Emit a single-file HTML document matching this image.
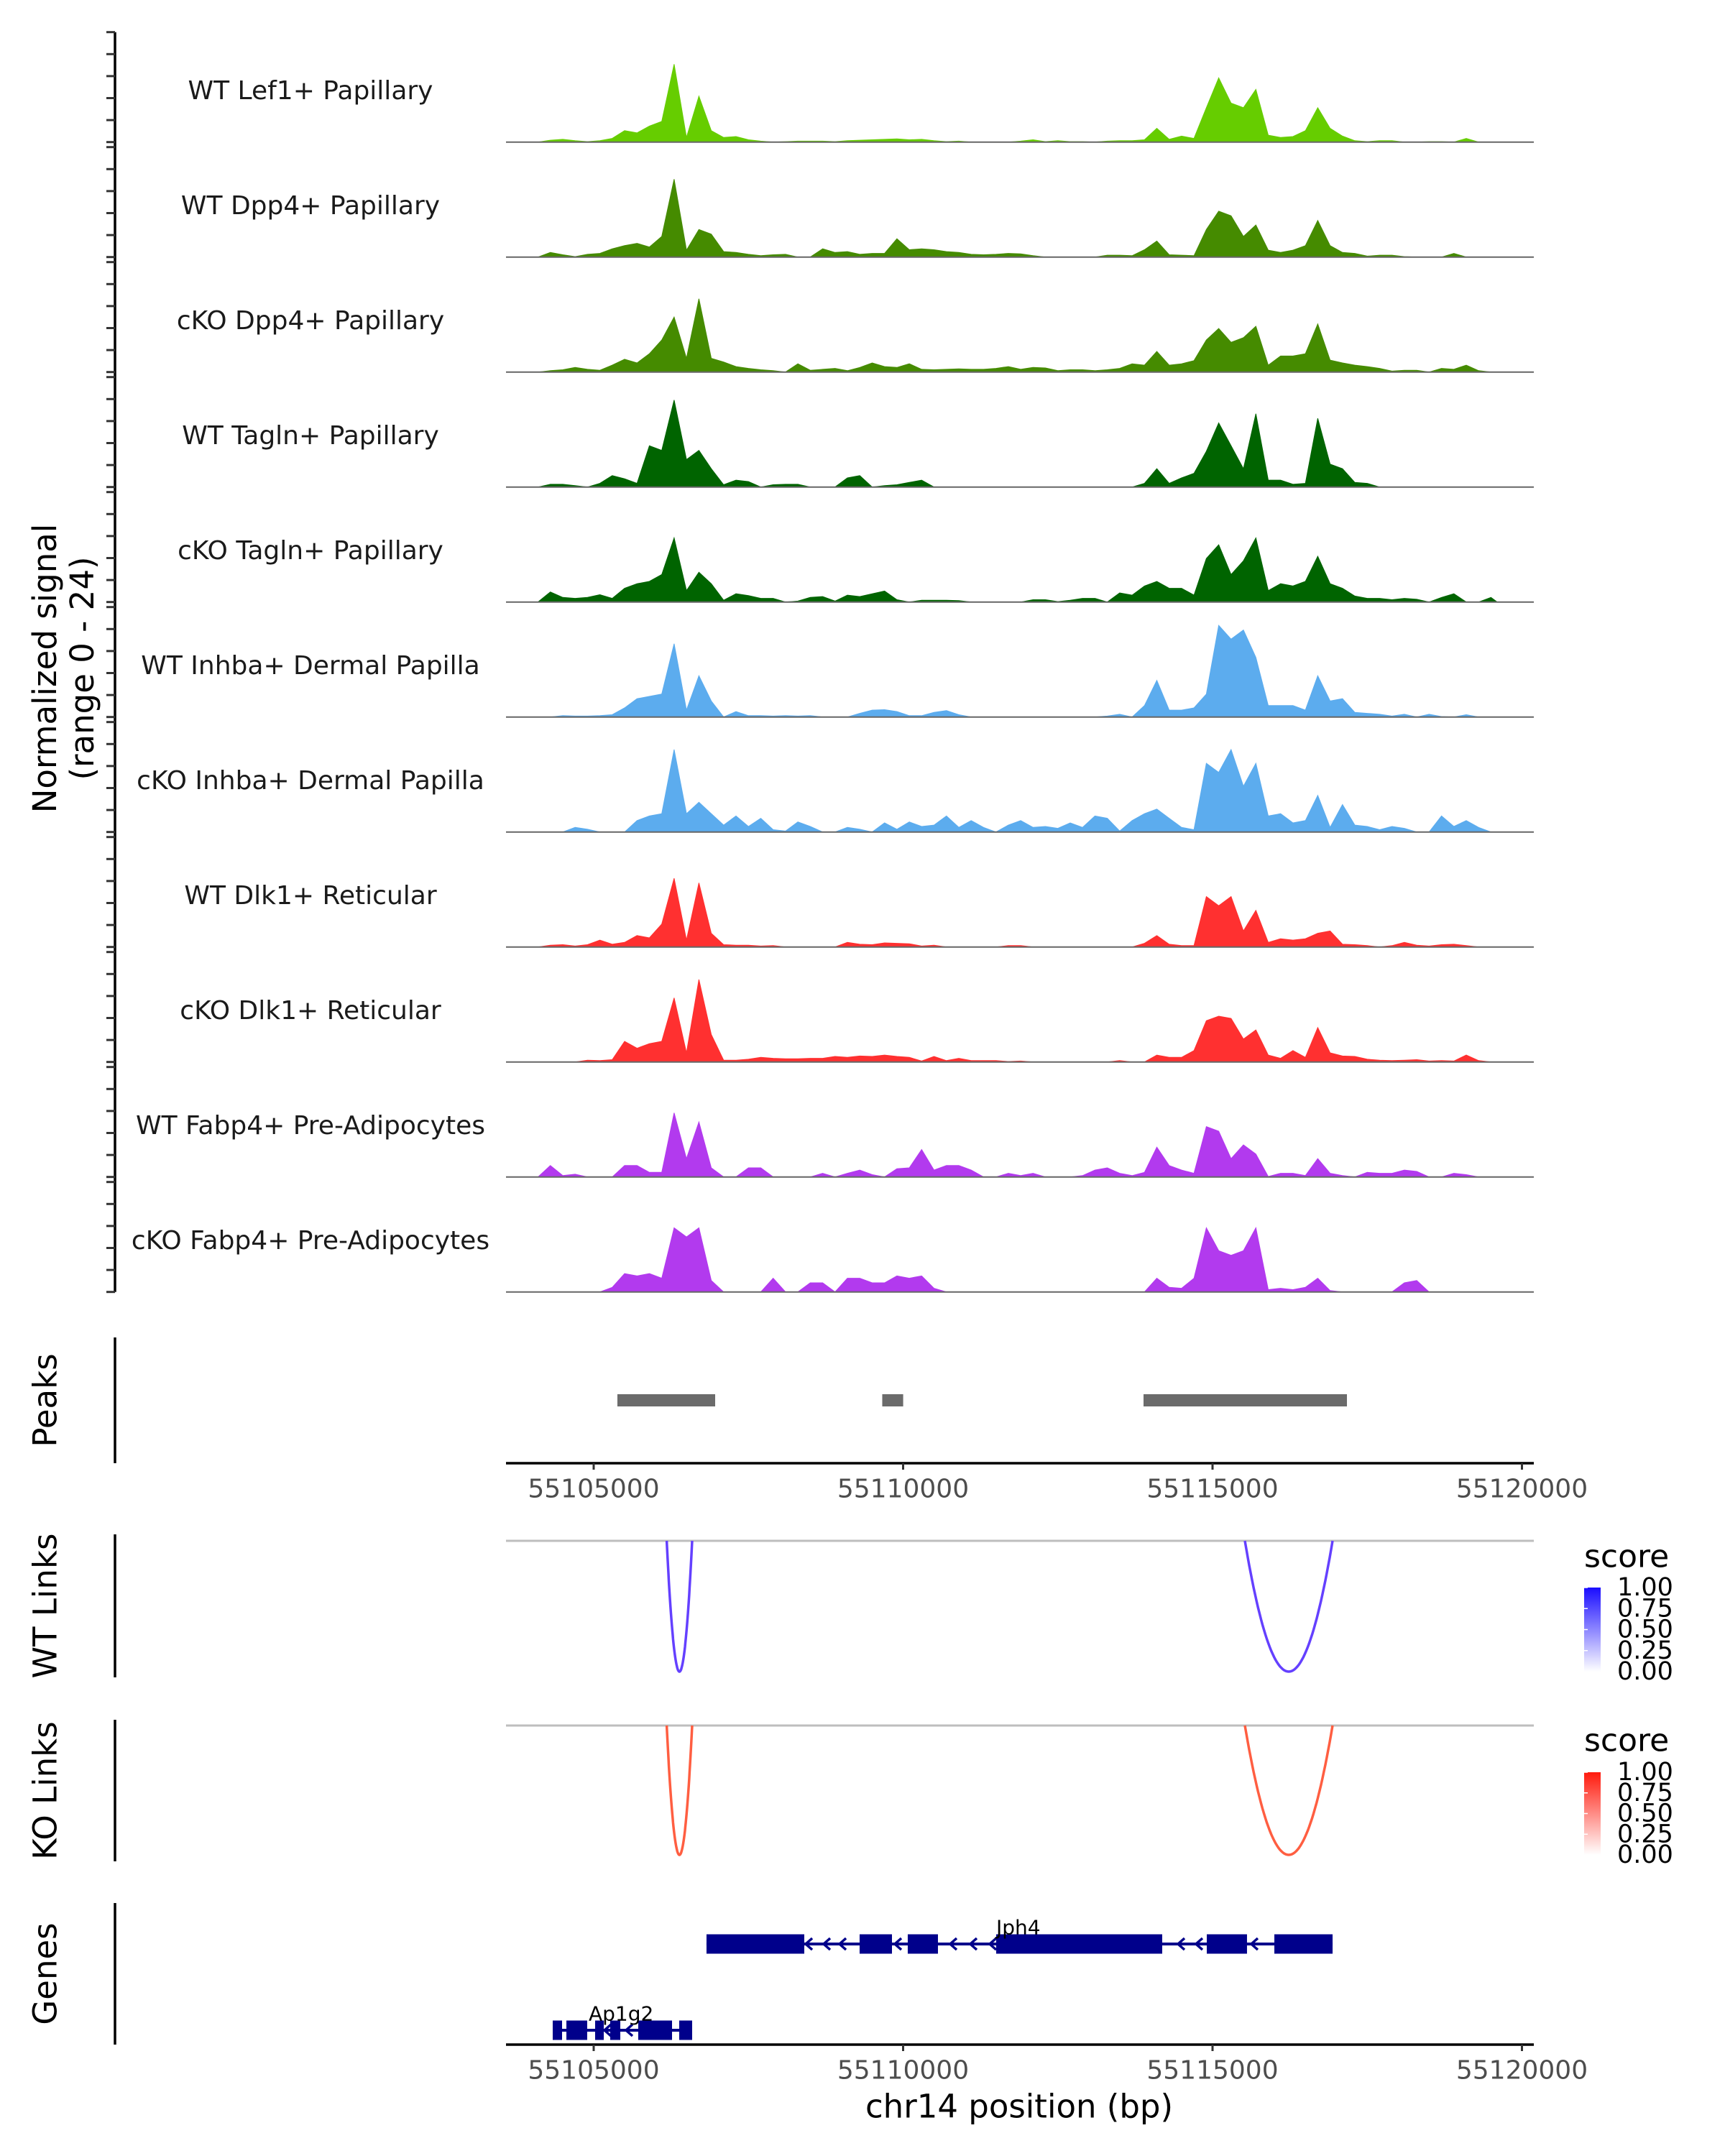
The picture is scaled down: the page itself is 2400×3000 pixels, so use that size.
<!DOCTYPE html>
<html><head><meta charset="utf-8"><style>
html,body{margin:0;padding:0;background:#fff;}
svg{display:block;font-family:"DejaVu Sans","Liberation Sans",sans-serif;}
</style></head><body>
<svg id="chart" width="2400" height="3000" viewBox="0 0 2400 3000" xmlns="http://www.w3.org/2000/svg">
<rect x="0" y="0" width="2400" height="3000" fill="#fff"/>
<g id="tracks"></g>
<g id="lower"></g>
</svg>
<script>
// ---- data ----
const trackNames = ["WT Lef1+ Papillary","WT Dpp4+ Papillary","cKO Dpp4+ Papillary","WT Tagln+ Papillary","cKO Tagln+ Papillary","WT Inhba+ Dermal Papilla","cKO Inhba+ Dermal Papilla","WT Dlk1+ Reticular","cKO Dlk1+ Reticular","WT Fabp4+ Pre-Adipocytes","cKO Fabp4+ Pre-Adipocytes"];
const trackColors = ["#66cd00","#458b00","#458b00","#006400","#006400","#5cacee","#5cacee","#ff3030","#ff3030","#b23aee","#b23aee"];
const binStart = 55104000;
const binSize = 200;
const sigLef1WT = [0,0.4,0.6,0.3,0.1,0.3,0.8,2.5,2,3.5,4.5,17,1,10,2.5,1,1.2,0.5,0.2,0,0.1,0.2,0.2,0.2,0.1,0.3,0.4,0.5,0.6,0.7,0.5,0.6,0.3,0.1,0.2,0,0,0,0,0.2,0.5,0.1,0.3,0.1,0.1,0,0.2,0.3,0.3,0.5,3,0.6,1.3,0.8,7.5,14,8.5,7.5,11.5,1.5,1,1.2,2.5,7.5,3,1.3,0.3,0.1,0.3,0.3,0,0,0.1,0.1,0,0.8,0,0];
const sigDpp4WT = [0,1,0.5,0.1,0.6,0.8,1.8,2.5,3,2.2,4.5,17,1.5,6,5,1.2,1,0.6,0.3,0.5,0.6,0,0,1.8,1,1.2,0.6,0.8,0.8,4,1.6,1.8,1.6,1.2,1,0.6,0.5,0.6,0.8,0.7,0.3,0,0,0,0,0,0.4,0.4,0.3,1.6,3.5,0.5,0.4,0.3,6,10,9,4.5,7,1.5,1,1.5,2.5,8,2.5,1,0.8,0.2,0.4,0.4,0.1,0,0,0,0.8,0,0,0];
const sigDpp4KO = [0,0.3,0.5,1,0.6,0.4,1.5,2.8,2,4,7,12,3,16,3,2.2,1.2,0.8,0.5,0.3,0,1.8,0.4,0.6,0.8,0.3,1,2,1.2,1,1.8,0.6,0.5,0.6,0.7,0.6,0.6,0.8,1.2,0.6,1,0.9,0.3,0.5,0.5,0.3,0.5,0.8,1.8,1.5,4.5,1.5,1.8,2.5,7,9.5,6.5,7.5,10,1.5,3.5,3.5,4,10.5,2.6,2,1.5,1.2,0.8,0.2,0.4,0.4,0,0.8,0.6,1.5,0.3,0];
const sigTaglnWT = [0,0.6,0.6,0.3,0,0.8,2.5,1.8,0.8,9,8,19,6,8,4,0.5,1.5,1.2,0,0.5,0.6,0.6,0,0,0,2,2.5,0,0.3,0.5,1,1.5,0,0,0,0,0,0,0,0,0,0,0,0,0,0,0,0,0,0.8,4,0.8,2,3,7.8,14,9,4,16,1.5,1.5,0.6,0.8,15,5,4,1,0.8,0,0,0,0,0,0,0,0,0,0];
const sigTaglnKO = [0,2.2,1,0.8,1,1.6,0.8,3,4,4.5,6,14,2.5,6.5,4,0.4,1.8,1.4,0.8,0.8,0,0.2,1,1.2,0.2,1.5,1.2,1.8,2.4,0.5,0,0.4,0.4,0.4,0.3,0,0,0,0,0,0.5,0.5,0.1,0.4,0.8,0.8,0,2,1.5,3.5,4.5,3,3,1.5,9.5,12.5,6,9,14,2.5,4,3.5,4.5,10,4,3,1.3,0.8,0.8,0.5,0.8,0.6,0,1,1.8,0,0,1];
const sigInhbaWT = [0,0,0.3,0.2,0.2,0.3,0.5,2,4,4.5,5,16,1.5,9,3.5,0,1.2,0.3,0.3,0.2,0.3,0.2,0.3,0,0,0,0.8,1.5,1.6,1.2,0.3,0.3,1,1.4,0.5,0,0,0,0,0,0,0,0,0,0,0,0.2,0.6,0,2.5,8,1.5,1.5,2,5,20,17,19,13,2.5,2.5,2.5,1.5,9,3.5,4,1,0.8,0.6,0.2,0.6,0,0.6,0.1,0,0.5,0,0];
const sigInhbaKO = [0,0,0,1,0.6,0,0,0,2.5,3.5,4,18,4,6.5,4,1.5,3.5,1.2,3,0.5,0.2,2.2,1.2,0,0,1,0.6,0,2,0.6,2.2,1.2,1.5,3.5,1,2.5,1,0,1.5,2.5,1,1.2,0.8,2,1,3.5,3,0.2,2.5,4,5,3,1,0.5,15,13,18,10,15,3.5,4,2,2.5,8,1,6,1.5,1.2,0.5,1.2,0.8,0,0,3.5,1.2,2.5,1,0];
const sigDlk1WT = [0,0.4,0.5,0.2,0.5,1.5,0.6,1,2.5,2,5,15,1.5,14,3,0.5,0.4,0.4,0.2,0.3,0,0,0,0,0,1,0.6,0.5,0.9,0.8,0.7,0.2,0.4,0,0,0,0,0,0.3,0.3,0,0,0,0,0,0,0,0,0,0.8,2.5,0.6,0.3,0.3,11,9,11,3.5,8,1,1.8,1.5,1.8,3,3.5,0.6,0.5,0.3,0,0.3,1,0.4,0.2,0.5,0.6,0.3,0,0];
const sigDlk1KO = [0,0,0,0,0.4,0.3,0.5,4.5,3,4,4.5,14,2,18,6,0.4,0.4,0.6,1,0.8,0.7,0.7,0.8,0.8,1.2,1,1.3,1.2,1.5,1.2,1,0.2,1.2,0.3,0.8,0.3,0.3,0.3,0.1,0.2,0,0,0,0,0,0,0,0.3,0,0,1.5,1,1,2.5,9,10,9.5,5,7,1.5,0.8,2.5,1,7.5,2,1.3,1.2,0.6,0.4,0.3,0.4,0.5,0.2,0.3,0.2,1.5,0.3,0];
const sigFabp4WT = [0,2.5,0.3,0.6,0,0,0,2.5,2.5,1,1,14,4,12,2,0,0,2,2,0,0,0,0,0.8,0,0.8,1.5,0.5,0,1.8,2,6,1.5,2.5,2.5,1.5,0,0,0.8,0.3,0.8,0,0,0,0.3,1.5,2,0.8,0.3,1,6.5,2.5,1.5,0.8,11,10,4,7,5,0.1,0.8,0.8,0.3,4,0.8,0.3,0,1,0.8,0.8,1.5,1.2,0,0,0.8,0.5,0,0];
const sigFabp4KO = [0,0,0,0,0,0,1,4,3.5,4,3,14,12,14,2.5,0,0,0,0,3,0,0,2,2,0,3,3,2,2,3.5,3,3.5,0.8,0,0,0,0,0,0,0,0,0,0,0,0,0,0,0,0,0,3,1,0.8,3,14,9,8,9,14,0.5,0.8,0.5,1,3,0.3,0,0,0,0,0,2,2.5,0,0,0,0,0,0];
const signals = [sigLef1WT,sigDpp4WT,sigDpp4KO,sigTaglnWT,sigTaglnKO,sigInhbaWT,sigInhbaKO,sigDlk1WT,sigDlk1KO,sigFabp4WT,sigFabp4KO];
const yMax = 24;
const xTicks = [55105000,55110000,55115000,55120000];
const xTickLabels = ["55105000","55110000","55115000","55120000"];
const peakStarts = [55105383,55109663,55113885];
const peakEnds = [55106963,55110001,55117172];
const wtLinkStarts = [55106180,55115523];
const wtLinkEnds = [55106591,55116940];
const wtLinkScores = [0.8,0.8];
const koLinkStarts = [55106180,55115523];
const koLinkEnds = [55106591,55116940];
const koLinkScores = [0.75,0.75];
const jph4ExonStarts = [55106823,55109297,55110075,55111504,55114907,55115999];
const jph4ExonEnds = [55108403,55109820,55110563,55114187,55115557,55116940];
const jph4Chevrons = [55108473,55108763,55109019,55109913,55110807,55111132,55111446,55114489,55114779,55115673];
const ap1g2ExonStarts = [55104338,55104559,55105023,55105267,55105720,55106382];
const ap1g2ExonEnds = [55104489,55104895,55105163,55105430,55106266,55106591];
const ap1g2Chevrons = [55104698,55105221,55105569];
const legendTicks = ["1.00","0.75","0.50","0.25","0.00"];

// ---- scales ----
const NS = "http://www.w3.org/2000/svg";
const X0 = 704, X1 = 2134;
function xpix(bp){ return 826 + (bp - 55105000) * 0.0861; }
const panelH = 153, firstBase = 197.7, step = 160;
function mk(tag, attrs, parent){ const e = document.createElementNS(NS, tag); for (const k in attrs) e.setAttribute(k, attrs[k]); parent.appendChild(e); return e; }

const gT = document.getElementById('tracks');
const gL = document.getElementById('lower');

const ax = mk('line',{x1:160,y1:firstBase-panelH,x2:160,y2:firstBase+step*10,stroke:'#000','stroke-width':3.5},gT);



trackNames.forEach((name,k)=>{
  const base = firstBase + step*k;
  const y = v => base - v/yMax*panelH;
  for (let t=0;t<=5;t++){
    const ty = y(t*yMax/5);
    const tk = mk('line',{x1:148,y1:ty,x2:160,y2:ty,stroke:'#333','stroke-width':3},gT);
    
    
  }
  const lb = mk('text',{x:432,y:base-71,'font-size':36,fill:'#1a1a1a','text-anchor':'middle','dominant-baseline':'central'},gT);
  lb.textContent = name;
  
  
  const vals = signals[k];
  let d = 'M'+xpix(binStart).toFixed(1)+','+base;
  vals.forEach((v,i)=>{ d += ' L'+xpix(binStart+binSize*i+binSize/2).toFixed(1)+','+y(v).toFixed(1); });
  d += ' L'+xpix(binStart+binSize*vals.length).toFixed(1)+','+base+' Z';
  const ar = mk('path',{d:d,fill:trackColors[k],stroke:trackColors[k],'stroke-width':1},gT);
  
  
  const bl = mk('line',{x1:X0,y1:base,x2:X1,y2:base,stroke:'#666','stroke-width':2},gT);
  
  
});

const yt = mk('text',{transform:'translate(88,930) rotate(-90)','font-size':45,fill:'#000','text-anchor':'middle'},gT);


const t1 = mk('tspan',{x:0,dy:-10},yt); t1.textContent='Normalized signal';
const t2 = mk('tspan',{x:0,dy:52},yt); t2.textContent='(range 0 - 24)';

const panels = [["Peaks",1861,2036,'peaks-title'],["WT Links",2135,2334,'wt-links-title'],["KO Links",2393,2590,'ko-links-title'],["Genes",2648,2845,'genes-title']];
panels.forEach(p=>{
  const l = mk('line',{x1:160,y1:p[1],x2:160,y2:p[2],stroke:'#000','stroke-width':3.5},gL);
  
  
  const t = mk('text',{transform:'translate(63,'+((p[1]+p[2])/2)+') rotate(-90)','font-size':45,fill:'#000','text-anchor':'middle','dominant-baseline':'central'},gL);
  t.textContent = p[0];
  
  
});

peakStarts.forEach((s,i)=>{
  const r = mk('rect',{x:xpix(s),y:1940,width:xpix(peakEnds[i])-xpix(s),height:17,fill:'#6b6b6b'},gL);
  
  
});

function xAxis(yA, nm){
  const l = mk('line',{x1:X0,y1:yA,x2:X1,y2:yA,stroke:'#000','stroke-width':3.5},gL);
  
  
  xTicks.forEach((t,i)=>{
    const tk = mk('line',{x1:xpix(t),y1:yA,x2:xpix(t),y2:yA+9,stroke:'#333','stroke-width':3},gL);
    
    
    const tl = mk('text',{x:xpix(t),y:yA+36,'font-size':36,fill:'#4d4d4d','text-anchor':'middle','dominant-baseline':'central'},gL);
    tl.textContent = xTickLabels[i];
    
    
  });
}
xAxis(2036,'peaks-x-axis');
xAxis(2845,'genes-x-axis');
const xt = mk('text',{x:1418,y:2931,'font-size':45,fill:'#000','text-anchor':'middle','dominant-baseline':'central'},gL);
xt.textContent = 'chr14 position (bp)';



function links(top, bottomMax, starts, ends, scores, color, nm){
  const gl = mk('line',{x1:X0,y1:top,x2:X1,y2:top,stroke:'#bebebe','stroke-width':3},gL);
  
  
  starts.forEach((s,i)=>{
    const a = xpix(s), b = xpix(ends[i]), c=(a+b)/2, hw=(b-a)/2;
    const depth = bottomMax - top;
    let d='';
    for (let j=0;j<=60;j++){
      const u = -1 + 2*j/60;
      const px = c + u*hw, py = top + depth*(1-u*u);
      d += (j?' L':'M')+px.toFixed(1)+','+py.toFixed(1);
    }
    const p = mk('path',{d:d,fill:'none',stroke:color,'stroke-width':3.5,'stroke-opacity':0.6+0.5*scores[i]},gL);
    
    
  });
}
links(2144,2326,wtLinkStarts,wtLinkEnds,wtLinkScores,'#6440ff','wt-link');
links(2401,2581,koLinkStarts,koLinkEnds,koLinkScores,'#ff5a3c','ko-link');

const defs = mk('defs',{},gL);
const g1 = mk('linearGradient',{id:'gb',x1:0,y1:0,x2:0,y2:1},defs);
mk('stop',{offset:0,'stop-color':'#1a0dff'},g1); mk('stop',{offset:1,'stop-color':'#ffffff'},g1);
const g2 = mk('linearGradient',{id:'gr',x1:0,y1:0,x2:0,y2:1},defs);
mk('stop',{offset:0,'stop-color':'#ff1a0d'},g2); mk('stop',{offset:1,'stop-color':'#ffffff'},g2);
function legend(yTitle, yTop, yBot, grad, nm){
  const t = mk('text',{x:2204,y:yTitle,'font-size':44,fill:'#000','dominant-baseline':'central'},gL);
  t.textContent='score';
  
  
  const r = mk('rect',{x:2204,y:yTop,width:23,height:yBot-yTop,fill:'url(#'+grad+')'},gL);
  
  
  legendTicks.forEach((lab,i)=>{
    const ty = yTop + (yBot-yTop)*i/(legendTicks.length-1);
    const tk = mk('line',{x1:2204,y1:ty,x2:2209,y2:ty,stroke:'#fff','stroke-width':1.5},gL);
    
    
    const tl = mk('text',{x:2250,y:ty,'font-size':35,fill:'#000','dominant-baseline':'central'},gL);
    tl.textContent = lab;
    
    
  });
}
legend(2166,2209,2326,'gb','wt-legend');
legend(2422,2466,2581,'gr','ko-legend');

function gene(name, starts, ends, chevs, yc, h, labelX, labelY, nm){
  const ln = mk('line',{x1:xpix(starts[0]),y1:yc,x2:xpix(ends[ends.length-1]),y2:yc,stroke:'#00008b','stroke-width':4},gL);
  
  
  chevs.forEach(c=>{
    const x = xpix(c);
    const p = mk('path',{d:'M'+(x+5)+','+(yc-8)+' L'+(x-4)+','+yc+' L'+(x+5)+','+(yc+8),fill:'none',stroke:'#00008b','stroke-width':3.5},gL);
    
    
  });
  starts.forEach((s,i)=>{
    const r = mk('rect',{x:xpix(s),y:yc-h/2,width:xpix(ends[i])-xpix(s),height:h,fill:'#00008b'},gL);
    
    
  });
  const t = mk('text',{x:labelX,y:labelY,'font-size':28,fill:'#000','dominant-baseline':'central'},gL);
  t.textContent = name;
  
  
}
gene('Jph4',jph4ExonStarts,jph4ExonEnds,jph4Chevrons,2705,27,xpix(jph4ExonStarts[3]),2682,'jph4');
gene('Ap1g2',ap1g2ExonStarts,ap1g2ExonEnds,ap1g2Chevrons,2825,27,819,2802,'ap1g2');
</script>
</body></html>
